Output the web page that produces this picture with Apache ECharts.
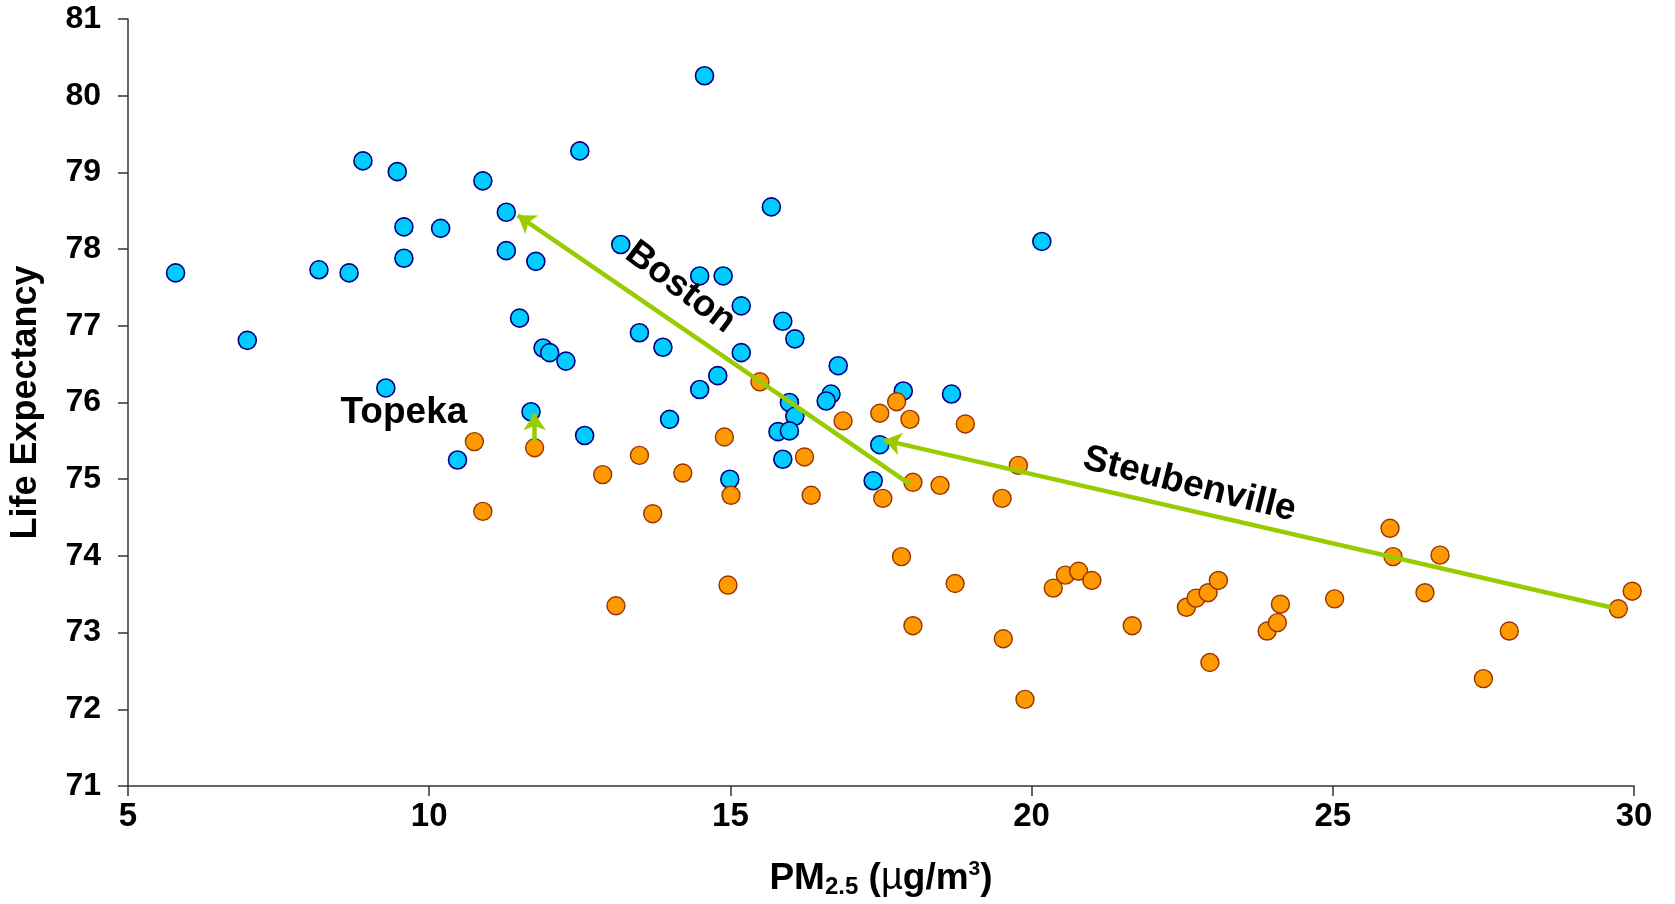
<!DOCTYPE html>
<html>
<head>
<meta charset="utf-8">
<script src="https://cdn.jsdelivr.net/npm/echarts@6/dist/echarts.min.js"></script>
<style>
html,body{margin:0;padding:0;background:#fff;}
#chart{width:1675px;height:904px;}
</style>
</head>
<body>
<div id="chart"></div>
<script>
// Blue series: [PM2.5, life expectancy]
const bluePM = [5.79,6.98,8.17,8.67,8.90,9.47,9.58,9.58,9.28,10.19,10.89,11.28,11.28,11.77,11.50,11.89,12.00,12.27,11.69,10.47,12.50,12.58,13.18,13.49,13.88,13.99,14.57,14.49,14.88,14.49,14.79,14.99,15.18,15.18,15.68,15.87,16.07,15.98,16.07,15.79,15.98,15.87,16.79,16.67,16.59,17.87,18.67,17.48,17.37,20.17];
const blueLE = [77.69,76.81,77.73,77.69,79.15,79.01,78.29,77.88,76.19,78.27,78.89,78.48,77.98,77.84,77.10,76.71,76.65,76.54,75.88,75.25,79.28,75.57,78.06,76.91,76.72,75.78,80.26,77.65,77.65,76.17,76.35,75.00,77.26,76.65,78.55,77.06,76.83,76.00,75.82,75.62,75.63,75.26,76.48,76.11,76.02,76.15,76.11,75.45,74.98,78.10];
// Orange series
const orangePM = [10.75,11.75,10.89,12.88,13.10,13.49,13.71,14.21,14.90,14.96,15.01,15.49,16.23,16.34,16.87,17.48,17.76,17.98,18.90,18.03,18.48,17.53,17.84,18.03,18.73,19.78,19.51,19.53,19.89,20.36,20.56,20.78,21.00,21.67,22.57,22.73,22.93,23.10,22.96,24.13,23.91,24.08,25.03,25.95,26.00,26.78,26.53,27.93,27.50,29.74,29.97];
const orangeLE = [75.49,75.41,74.58,75.06,73.35,75.31,74.55,75.08,75.55,73.62,74.79,76.27,75.29,74.79,75.76,75.86,76.01,75.78,75.72,74.96,74.92,74.75,73.99,73.09,73.64,75.18,74.75,72.92,72.13,73.58,73.75,73.80,73.68,73.09,73.33,73.45,73.52,73.68,72.61,73.37,73.02,73.13,73.44,74.36,73.99,74.01,73.52,73.02,72.40,73.31,73.54];
// Arrows: start -> end
const arrowNames = ['Boston','Steubenville','Topeka'];
const arrowFrom = [[17.99,74.93],[29.61,73.33],[11.75,75.49]];
const arrowTo = [[11.47,78.44],[17.55,75.51],[11.75,75.86]];
// Text annotations
const labelNames = ['Topeka','Boston','Steubenville'];
const labelPos = [[9.58,75.86],[14.17,77.50],[22.62,74.93]];
const labelRotate = [0,-37,-14];
// Axis ticks
const xTicks = [5,10,15,20,25,30];
const yTicks = [71,72,73,74,75,76,77,78,79,80,81];

const FONT = '"Liberation Sans", Arial, sans-serif';
const chart = echarts.init(document.getElementById('chart'), null, {renderer:'canvas'});

const toPts = (xs, ys) => xs.map((x,i)=>[x, ys[i]]);

const option = {
  animation: false,
  backgroundColor: '#ffffff',
  grid: {left:128, right:41, top:19, bottom:115, containLabel:false},
  xAxis: {
    type:'value', min:xTicks[0], max:xTicks[xTicks.length-1], interval:5,
    name:'{pm|PM}{sub|2.5}{pm| (}{mu|µ}{pm|g/m}{sup|3}{pm|)}',
    nameLocation:'middle', nameGap:73,
    nameTextStyle:{
      rich:{
        pm:{fontFamily:FONT, fontWeight:'bold', fontSize:37, color:'#000'},
        sub:{fontFamily:FONT, fontWeight:'bold', fontSize:24, color:'#000', verticalAlign:'bottom', padding:[16,0,0,0]},
        sup:{fontFamily:FONT, fontWeight:'bold', fontSize:21, color:'#000', verticalAlign:'top', padding:[0,0,16,0]},
        mu:{fontFamily:FONT, fontWeight:'normal', fontSize:38, color:'#000'}
      }
    },
    axisLine:{show:true, onZero:false, lineStyle:{color:'#333', width:1.5}},
    axisTick:{show:true, inside:false, length:10, lineStyle:{color:'#333', width:1.5}},
    splitLine:{show:false},
    axisLabel:{fontFamily:FONT, fontWeight:'bold', fontSize:33, color:'#000', margin:14}
  },
  yAxis: {
    type:'value', min:yTicks[0], max:yTicks[yTicks.length-1], interval:1,
    name:'Life Expectancy', nameLocation:'middle', nameGap:84, nameRotate:90,
    nameTextStyle:{fontFamily:FONT, fontWeight:'bold', fontSize:36, color:'#000'},
    axisLine:{show:true, onZero:false, lineStyle:{color:'#333', width:1.5}},
    axisTick:{show:true, inside:false, length:10, lineStyle:{color:'#333', width:1.5}},
    splitLine:{show:false},
    axisLabel:{fontFamily:FONT, fontWeight:'bold', fontSize:32, color:'#000', margin:27}
  },
  series: [
    {
      type:'scatter', name:'blue', z:2,
      data: toPts(bluePM, blueLE),
      symbol:'circle', symbolSize:18,
      itemStyle:{color:'#00CCFF', borderColor:'#000080', borderWidth:1.6, opacity:1}
    },
    {
      type:'scatter', name:'orange', z:3,
      data: toPts(orangePM, orangeLE),
      symbol:'circle', symbolSize:18,
      itemStyle:{color:'#FF9900', borderColor:'#993300', borderWidth:1.4, opacity:1}
    },
    {
      type:'line', name:'arrows', z:4, data:[], silent:true,
      markLine:{
        silent:true, animation:false,
        symbol:['none','arrow'], symbolSize:17,
        label:{show:false},
        lineStyle:{color:'#99CC00', width:4.5, type:'solid', opacity:1},
        emphasis:{disabled:true},
        data: arrowNames.map((n,i)=>[{name:n, coord:arrowFrom[i]},{coord:arrowTo[i]}])
      }
    },
    {
      type:'line', name:'labels', z:5, silent:true, data:[],
      markPoint:{
        silent:true, animation:false,
        symbol:'circle', symbolSize:0,
        itemStyle:{color:'rgba(0,0,0,0)'},
        data: labelNames.map((n,i)=>({
          name:n,
          coord:[labelPos[i][0], labelPos[i][1]],
          label:{show:true, position:'inside', formatter:n, rotate:labelRotate[i], opacity:1,
                 fontFamily:FONT, fontWeight:'bold', fontSize:37, color:'#000000',
                 textBorderWidth:0}
        }))
      }
    }
  ]
};
chart.setOption(option);
</script>
</body>
</html>
